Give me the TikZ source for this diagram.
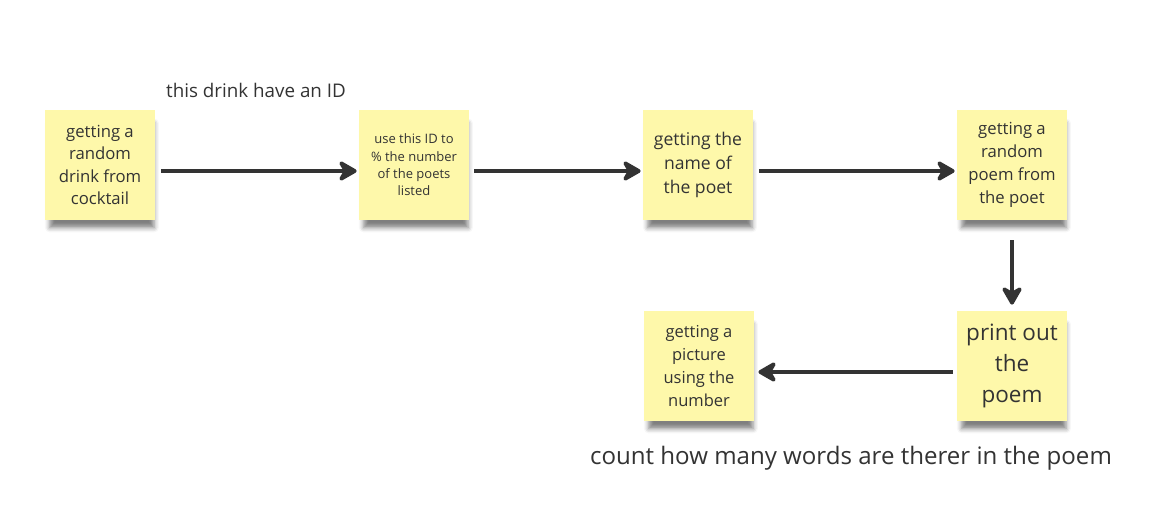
\documentclass[tikz,border=0pt]{standalone}
\usepackage{fontspec}
\setmainfont{Open Sans}
\usetikzlibrary{arrows.meta,shadows.blur}

\definecolor{sticky}{RGB}{254,248,170}
\definecolor{ink}{RGB}{51,51,51}

\tikzset{
  note/.style={fill=sticky, minimum width=2.2cm, minimum height=2.2cm,
    align=center, text=ink, inner sep=1pt,
    blur shadow={shadow xshift=0.04cm, shadow yshift=-0.22cm, shadow scale=0.95,
      shadow blur radius=0.1cm, shadow opacity=50}},
  flow/.style={draw=ink, line width=2.3pt,
    -{Stealth[length=0.44cm, width=0.5cm, inset=0.14cm, round]}},
  txt/.style={text=ink}
}

\begin{document}
\begin{tikzpicture}
   \useasboundingbox (0,0) rectangle (23.06,-10.16);

   \node[note, font=\fontsize{9.5}{12.8}\selectfont] (drink) at (2.0,-3.3)
      {getting a\\random\\drink from\\cocktail};
   \node[note, font=\fontsize{7.4}{9.9}\selectfont] (useid) at (8.28,-3.3)
      {use this ID to\\\% the number\\of the poets\\listed};
   \node[note, font=\fontsize{10}{13.9}\selectfont] (name) at (13.96,-3.3)
      {getting the\\name of\\the poet};
   \node[note, font=\fontsize{9.5}{13}\selectfont] (poem) at (20.24,-3.3)
      {getting a\\random\\poem from\\the poet};
   \node[note, font=\fontsize{12.8}{17.5}\selectfont] (print) at (20.24,-7.32)
      {print out\\the\\poem};
   \node[note, font=\fontsize{9.4}{13}\selectfont] (picture) at (13.98,-7.32)
      {getting a\\picture\\using the\\number};

   \node[txt, font=\fontsize{10.7}{12}\selectfont] (idlabel) at (5.12,-1.8) {this drink have an ID};
   \node[txt, font=\fontsize{13.7}{15}\selectfont] (count) at (17.02,-9.16)
      {count how many words are therer in the poem};

   % top row
   \draw[flow, shorten <=0.12cm, shorten >=0.04cm] ([yshift=-0.12cm]drink.east) -- ([yshift=-0.12cm]useid.west);
   \draw[flow, shorten <=0.1cm, shorten >=0.04cm] ([yshift=-0.12cm]useid.east) -- ([yshift=-0.12cm]name.west);
   \draw[flow, shorten <=0.12cm, shorten >=0.04cm] ([yshift=-0.12cm]name.east) -- ([yshift=-0.12cm]poem.west);

   % down and back
   \draw[flow, shorten <=0.4cm, shorten >=0.12cm] (poem.south) -- (print.north);
   \draw[flow, shorten <=0.08cm, shorten >=0.08cm] ([yshift=-0.12cm]print.west) -- ([yshift=-0.12cm]picture.east);

\end{tikzpicture}
\end{document}
